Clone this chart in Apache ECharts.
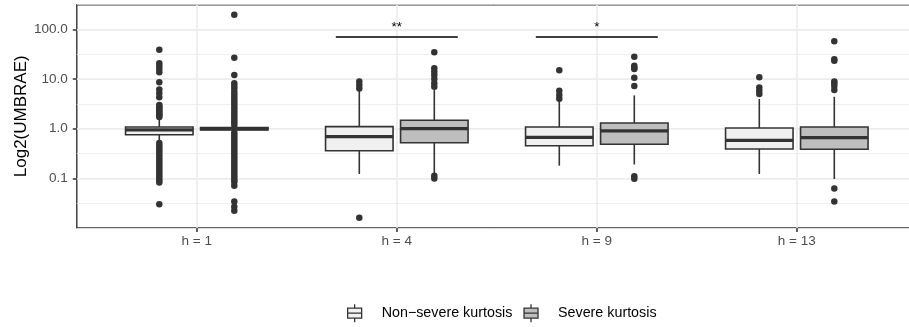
<!DOCTYPE html>
<html><head><meta charset="utf-8">
<script src="https://cdn.jsdelivr.net/npm/echarts@6/dist/echarts.min.js"></script>
<style>html,body{margin:0;padding:0;background:#fff}#c{width:909px;height:327px}</style>
</head><body><div id="c"></div>
<script>
// ---------- data ----------
const categories = ['h = 1', 'h = 4', 'h = 9', 'h = 13'];
const seriesNames = ['Non\u2212severe kurtosis', 'Severe kurtosis'];
const yTickValues = [0.1, 1, 10, 100];
const yTickLabels = ['0.1', '1.0', '10.0', '100.0'];
// box stats per category: [lower whisker, Q1, median, Q3, upper whisker]
const nonSevereBoxes = [
  [0.55, 0.757, 0.95, 1.08, 1.55],
  [0.122, 0.36, 0.69, 1.10, 6.0],
  [0.18, 0.454, 0.67, 1.08, 3.7],
  [0.122, 0.39, 0.58, 1.03, 3.97]
];
const severeBoxes = [
  [0.90, 0.942, 1.0, 1.057, 1.12],
  [0.126, 0.52, 1.0, 1.48, 6.0],
  [0.19, 0.485, 0.90, 1.30, 4.7],
  [0.097, 0.385, 0.66, 1.08, 4.4]
];
const nonSevereOutliers = [
  [39.2, 20.8, 18.4, 16.0, 13.8, 8.6, 6.2, 5.2, 4.3, 3.0, 2.8, 2.6, 2.4, 2.27, 2.1, 1.98, 1.85, 1.72,
   0.515, 0.458, 0.408, 0.363, 0.324, 0.288, 0.256, 0.229, 0.203, 0.181, 0.161, 0.144, 0.128, 0.114, 0.101, 0.090, 0.082, 0.030],
  [8.9, 7.6, 6.46, 0.016],
  [15.0, 5.8, 4.8, 4.0],
  [10.9, 6.8, 5.8, 5.0]
];
const severeOutliers = [
  [199, 27.0, 12.1, 8.2, 7.3, 6.5, 5.57, 4.9, 4.3, 3.79, 3.37, 3.0, 2.68, 2.38, 2.12, 1.89, 1.68, 1.50, 1.33, 1.19,
   0.83, 0.746, 0.665, 0.592, 0.527, 0.469, 0.418, 0.372, 0.331, 0.295, 0.263, 0.234, 0.208, 0.185, 0.165, 0.147, 0.131, 0.117, 0.104, 0.092, 0.084,
   0.071, 0.034, 0.0267, 0.0222],
  [34.7, 16.5, 14.1, 12.1, 10.0, 8.2, 7.0, 0.113, 0.099],
  [28.3, 18.6, 17.0, 16.0, 10.7, 7.3, 0.11, 0.098],
  [57.8, 25.0, 23.5, 8.9, 8.2, 7.3, 6.0, 0.062, 0.034]
];
const sigCategoryIndex = [1, 2];
const sigLevels = [70.6, 70.6];
const sigLabels = ['**', '*'];

// ---------- layout constants ----------
const DODGE = 0.1875, HALF = 0.16875, SIG_HALF = 0.305;
const FONT = '"Liberation Sans", Arial, Helvetica, sans-serif';
const STROKE = '#333333';
const fills = ['#f0f0f0', '#bebebe'];
const lg = Math.log10;

function boxData(boxes, off) {
  return boxes.map((b, i) => [i + 1 + off].concat(b.map(lg)));
}
function outData(outs, off) {
  const r = [];
  outs.forEach((arr, i) => arr.forEach(v => r.push([i + 1 + off, lg(v)])));
  return r;
}
function boxRender(fill) {
  return function (params, api) {
    const x = api.value(0);
    const lo = api.coord([x, api.value(1)]), q1 = api.coord([x, api.value(2)]),
          md = api.coord([x, api.value(3)]), q3 = api.coord([x, api.value(4)]),
          hi = api.coord([x, api.value(5)]);
    const l = api.coord([x - HALF, api.value(3)])[0], r = api.coord([x + HALF, api.value(3)])[0];
    return { type: 'group', children: [
      { type: 'line', shape: { x1: md[0], y1: hi[1], x2: md[0], y2: q3[1] }, style: { stroke: STROKE, lineWidth: 1.6 } },
      { type: 'line', shape: { x1: md[0], y1: q1[1], x2: md[0], y2: lo[1] }, style: { stroke: STROKE, lineWidth: 1.6 } },
      { type: 'rect', shape: { x: l, y: q3[1], width: r - l, height: q1[1] - q3[1] }, style: { fill: fill, stroke: STROKE, lineWidth: 1.6 } },
      { type: 'line', shape: { x1: l, y1: md[1], x2: r, y2: md[1] }, style: { stroke: STROKE, lineWidth: 3.2 } }
    ]};
  };
}
const sigData = sigCategoryIndex.map((c, i) => [c + 1, lg(sigLevels[i])]);

const ICON = 'path://M7,0L7,4M0,4L14,4L14,14L0,14ZM0,9L14,9M7,14L7,18';

const chart = echarts.init(document.getElementById('c'), null, { renderer: 'canvas' });
chart.setOption({
  animation: false,
  backgroundColor: '#ffffff',
  textStyle: { fontFamily: FONT },
  grid: { left: 76.8, right: -7.8, top: 4.7, bottom: 99.1, outerBoundsMode: 'none', containLabel: false,
    show: true, borderColor: STROKE, borderWidth: 1.4, backgroundColor: 'transparent' },
  legend: {
    left: 347, top: 303.5, padding: 0, itemWidth: 14, itemHeight: 18, itemGap: 11,
    textStyle: { fontSize: 14.3, color: '#000', fontFamily: FONT, padding: [0, 0, 0, 15] },
    data: [
      { name: seriesNames[0], icon: ICON, itemStyle: { color: fills[0], borderColor: STROKE, borderWidth: 1.3 } },
      { name: seriesNames[1], icon: ICON, itemStyle: { color: fills[1], borderColor: STROKE, borderWidth: 1.3 } }
    ]
  },
  xAxis: {
    type: 'value', min: 0.4, max: 4.6, interval: 1,
    axisLine: { show: false, onZero: false },
    axisTick: { show: true, customValues: [1, 2, 3, 4], length: 4, lineStyle: { color: STROKE, width: 1.5 } },
    axisLabel: { customValues: [1, 2, 3, 4], margin: 6, fontSize: 13.5, color: '#4d4d4d', fontFamily: FONT,
      formatter: v => categories[Math.round(v) - 1] || '' },
    splitLine: { show: true, lineStyle: { color: '#ebebeb', width: 1.6 } }
  },
  yAxis: [{
    type: 'value', min: -2, max: 2.5, interval: 1,
    name: 'Log2(UMBRAE)', nameLocation: 'middle', nameRotate: 90, nameGap: 47, nameMoveOverlap: false,
    nameTextStyle: { fontSize: 17, color: '#000', fontFamily: FONT },
    axisLine: { show: false, onZero: false },
    axisTick: { show: true, customValues: yTickValues.map(lg), length: 4, lineStyle: { color: STROKE, width: 1.5 } },
    axisLabel: { customValues: yTickValues.map(lg), margin: 9, fontSize: 13.5, color: '#4d4d4d', fontFamily: FONT,
      formatter: v => { const i = yTickValues.findIndex(t => Math.abs(lg(t) - v) < 1e-6); return i >= 0 ? yTickLabels[i] : ''; } },
    splitLine: { show: true, lineStyle: { color: '#ebebeb', width: 1.6 } }
  }, {
    type: 'value', min: -2, max: 2.5, interval: 0.5, position: 'left',
    axisLine: { show: false, onZero: false }, axisTick: { show: false }, axisLabel: { show: false },
    splitLine: { show: true, lineStyle: { color: '#ebebeb', width: 0.8 } }
  }],
  series: [
    { name: seriesNames[0], type: 'custom', renderItem: boxRender(fills[0]), data: boxData(nonSevereBoxes, -DODGE),
      encode: { x: 0, y: [1, 2, 3, 4, 5] }, z: 2 },
    { name: seriesNames[0], type: 'scatter', data: outData(nonSevereOutliers, -DODGE), symbolSize: 6.5,
      itemStyle: { color: STROKE, opacity: 1 }, z: 3, silent: true },
    { name: seriesNames[1], type: 'custom', renderItem: boxRender(fills[1]), data: boxData(severeBoxes, DODGE),
      encode: { x: 0, y: [1, 2, 3, 4, 5] }, z: 2 },
    { name: seriesNames[1], type: 'scatter', data: outData(severeOutliers, DODGE), symbolSize: 6.5,
      itemStyle: { color: STROKE, opacity: 1 }, z: 3, silent: true },
    { name: 'sig', type: 'custom', z: 4, silent: true, data: sigData, encode: { x: 0, y: 1 },
      renderItem: function (params, api) {
        const x = api.value(0), y = api.value(1);
        const a = api.coord([x - SIG_HALF, y]), b = api.coord([x + SIG_HALF, y]), c = api.coord([x, y]);
        return { type: 'group', children: [
          { type: 'line', shape: { x1: a[0], y1: a[1], x2: b[0], y2: b[1] }, style: { stroke: '#000', lineWidth: 1.4 } },
          { type: 'text', style: { text: sigLabels[params.dataIndex], x: c[0], y: c[1] - 3, align: 'center', verticalAlign: 'bottom',
            fill: '#000', font: '13.5px ' + FONT } }
        ]};
      } }
  ]
});
</script></body></html>
